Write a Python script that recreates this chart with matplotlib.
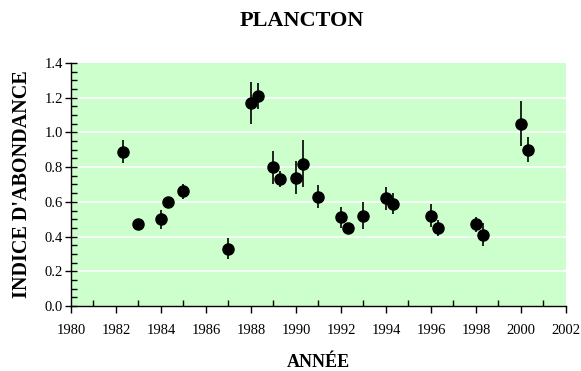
import matplotlib
matplotlib.use("Agg")
import matplotlib.pyplot as plt
from matplotlib.ticker import MultipleLocator

# abundance index per sampling campaign
years = [1982.3, 1983.0, 1984.0, 1984.3, 1985.0, 1987.0, 1988.0, 1988.3,
         1989.0, 1989.3, 1990.0, 1990.3, 1991.0, 1992.0, 1992.3, 1993.0,
         1994.0, 1994.3, 1996.0, 1996.3, 1998.0, 1998.3, 2000.0, 2000.3]
indice = [0.89, 0.47, 0.50, 0.60, 0.66, 0.33, 1.17, 1.21,
          0.80, 0.73, 0.74, 0.82, 0.63, 0.51, 0.45, 0.52,
          0.62, 0.59, 0.52, 0.45, 0.47, 0.41, 1.05, 0.90]
erreur = [0.065, 0.03, 0.055, 0.03, 0.045, 0.06, 0.12, 0.075,
          0.095, 0.045, 0.093, 0.135, 0.066, 0.063, 0.03, 0.078,
          0.067, 0.06, 0.066, 0.048, 0.045, 0.067, 0.13, 0.073]

plt.rcParams['font.family'] = ['Liberation Serif', 'DejaVu Serif']

fig = plt.figure(figsize=(5.81, 3.71), dpi=100)
ax = fig.add_axes([0.1222, 0.1752, 0.974 - 0.1222, 0.8302 - 0.1752])
ax.set_facecolor('#ccffcc')

for v in [0.2, 0.4, 0.6, 0.8, 1.0, 1.2]:
    ax.axhline(v, color='white', lw=1.2, zorder=1)

ax.errorbar(years, indice, yerr=erreur, fmt='o', color='black',
            ms=8, elinewidth=1.2, capsize=0, zorder=3)

ax.set_xlim(1980, 2002)
ax.set_ylim(0, 1.4)
ax.xaxis.set_major_locator(MultipleLocator(2))
ax.xaxis.set_minor_locator(MultipleLocator(1))
ax.yaxis.set_major_locator(MultipleLocator(0.2))
ax.yaxis.set_minor_locator(MultipleLocator(0.05))
ax.yaxis.set_major_formatter(plt.FormatStrFormatter('%.1f'))

for s in ['top', 'right']:
    ax.spines[s].set_visible(False)
for s in ['left', 'bottom']:
    ax.spines[s].set_linewidth(1)

ax.tick_params(axis='x', which='major', direction='out', length=5, width=1,
               labelsize=10.5, pad=8)
ax.tick_params(axis='x', which='minor', direction='in', length=4, width=1)
ax.tick_params(axis='y', which='major', direction='inout', length=8, width=1,
               labelsize=10.5, pad=2)
ax.tick_params(axis='y', which='minor', direction='in', length=4, width=1)

ax.set_xlabel('ANNÉE', fontsize=13, fontweight='bold', labelpad=12)
ax.set_ylabel("INDICE D'ABONDANCE", fontsize=14.5, fontweight='bold', labelpad=9)
fig.text(302 / 581, 1 - 21 / 371, 'PLANCTON', ha='center', va='center',
         fontsize=16, fontweight='bold')

fig.savefig('out.png', dpi=100)
